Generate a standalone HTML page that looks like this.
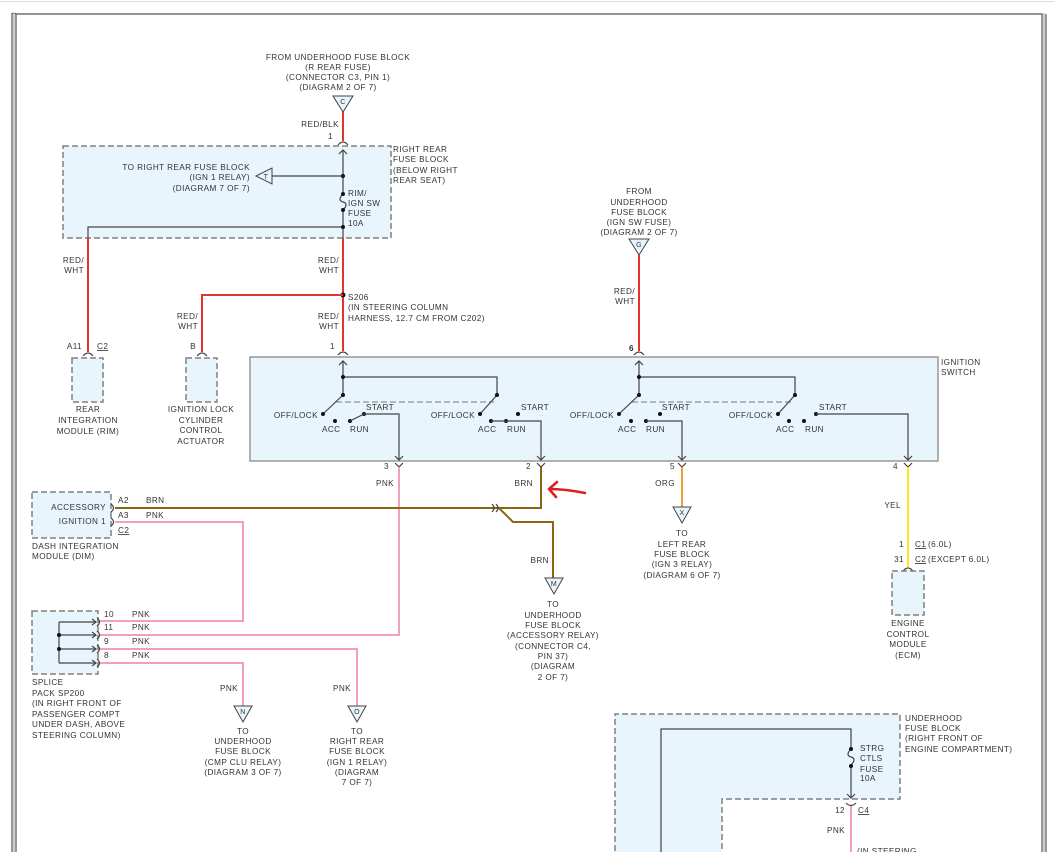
<!DOCTYPE html>
<html><head><meta charset="utf-8"><style>
html,body{margin:0;padding:0;background:#fff;}
svg{display:block;}
text{font-family:"Liberation Sans",sans-serif;font-size:8.2px;fill:#333;letter-spacing:0.4px;}
.m{text-anchor:middle}.r{text-anchor:end}
.box{fill:#e9f5fc;stroke:#808080;stroke-width:1.5;stroke-dasharray:6 3}
.g{stroke:#444;stroke-width:1.2;fill:none}
.red{stroke:#e8302c;stroke-width:2;fill:none}
.pnk{stroke:#f4a0b4;stroke-width:2;fill:none}
.brn{stroke:#8b6414;stroke-width:2;fill:none}
.tri{fill:#e9f5fc;stroke:#444;stroke-width:1}
</style></head><body>
<svg width="1054" height="852" viewBox="0 0 1054 852" xmlns="http://www.w3.org/2000/svg">
<!-- frame -->
<line x1="0" y1="1.5" x2="1054" y2="1.5" stroke="#ddd" stroke-width="1"/>
<path d="M12 852V13.5H16M16 852V14H1042V852M1046 852V14" stroke="#555" stroke-width="1.2" fill="none"/>
<line x1="14" y1="13" x2="14" y2="852" stroke="#bbb" stroke-width="1.5"/>
<line x1="1044" y1="13" x2="1044" y2="852" stroke="#bbb" stroke-width="1.5"/>

<!-- top source -->
<text class="m" x="338" y="60">FROM UNDERHOOD FUSE BLOCK</text>
<text class="m" x="338" y="70">(R REAR FUSE)</text>
<text class="m" x="338" y="80">(CONNECTOR C3, PIN 1)</text>
<text class="m" x="338" y="90">(DIAGRAM 2 OF 7)</text>
<polygon class="tri" points="333,96 353,96 343,112"/><text class="m" x="343" y="104" style="font-size:7px">C</text>
<line class="red" x1="343" y1="112" x2="343" y2="141"/>
<text class="r" x="339" y="127">RED/BLK</text>
<text x="328" y="139">1</text>
<path class="g" d="M338 145Q343 139 348 145" />

<!-- right rear fuse block -->
<rect class="box" x="63" y="146" width="328" height="92"/>
<text x="393" y="152">RIGHT REAR</text><text x="393" y="162">FUSE BLOCK</text><text x="393" y="173">(BELOW RIGHT</text><text x="393" y="183">REAR SEAT)</text>
<path class="g" d="M343 238V150M339 154L343 150L347 154"/>
<path class="g" d="M343 176H272"/>
<polygon class="tri" points="272,168 272,184 256,176"/><text class="m" x="266" y="179" style="font-size:7px">T</text>
<text class="r" x="250" y="170">TO RIGHT REAR FUSE BLOCK</text>
<text class="r" x="250" y="180">(IGN 1 RELAY)</text>
<text class="r" x="250" y="191">(DIAGRAM 7 OF 7)</text>
<circle cx="343" cy="176" r="2" fill="#111"/>
<rect x="338" y="193" width="10" height="18" fill="#e9f5fc"/>
<path class="g" d="M343 194C339 198 339 201 343 202C347 203 347 206 343 210"/>
<circle cx="343" cy="194" r="2" fill="#111"/><circle cx="343" cy="210" r="2" fill="#111"/>
<text x="348" y="196">RIM/</text><text x="348" y="206">IGN SW</text><text x="348" y="216">FUSE</text><text x="348" y="226">10A</text>
<path class="g" d="M343 227H88V238"/><circle cx="343" cy="227" r="2" fill="#111"/>

<!-- wires down -->
<line class="red" x1="343" y1="238" x2="343" y2="351"/>
<text class="r" x="339" y="263">RED/</text><text class="r" x="339" y="273">WHT</text>
<circle cx="343" cy="295" r="2.5" fill="#111"/>
<path class="red" d="M343 295H202V352"/>
<text x="348" y="300">S206</text><text x="348" y="310">(IN STEERING COLUMN</text><text x="348" y="321">HARNESS, 12.7 CM FROM C202)</text>
<text class="r" x="339" y="319">RED/</text><text class="r" x="339" y="329">WHT</text>
<text x="330" y="349">1</text>
<path class="g" d="M338 355Q343 349 348 355"/>
<line class="red" x1="88" y1="238" x2="88" y2="352"/>
<text class="r" x="84" y="263">RED/</text><text class="r" x="84" y="273">WHT</text>
<text class="r" x="82" y="349">A11</text><text x="97" y="349" text-decoration="underline">C2</text>
<path class="g" d="M83 356Q88 350 93 356"/>
<rect class="box" x="72" y="358" width="31" height="44"/>
<text class="m" x="88" y="412">REAR</text><text class="m" x="88" y="423">INTEGRATION</text><text class="m" x="88" y="434">MODULE (RIM)</text>
<text class="r" x="198" y="319">RED/</text><text class="r" x="198" y="329">WHT</text>
<text class="r" x="196" y="349">B</text>
<path class="g" d="M197 356Q202 350 207 356"/>
<rect class="box" x="186" y="358" width="31" height="44"/>
<text class="m" x="201" y="412">IGNITION LOCK</text><text class="m" x="201" y="423">CYLINDER</text><text class="m" x="201" y="433">CONTROL</text><text class="m" x="201" y="444">ACTUATOR</text>

<!-- G source -->
<text class="m" x="639" y="194">FROM</text><text class="m" x="639" y="205">UNDERHOOD</text><text class="m" x="639" y="215">FUSE BLOCK</text><text class="m" x="639" y="225">(IGN SW FUSE)</text><text class="m" x="639" y="235">(DIAGRAM 2 OF 7)</text>
<polygon class="tri" points="629,239 649,239 639,255"/><text class="m" x="639" y="247" style="font-size:7px">G</text>
<line class="red" x1="639" y1="255" x2="639" y2="351"/>
<text class="r" x="635" y="294">RED/</text><text class="r" x="635" y="304">WHT</text>
<text x="629" y="351" style="font-weight:bold">6</text>
<path class="g" d="M634 355Q639 349 644 355"/>

<!-- ignition switch -->
<rect x="250" y="357" width="688" height="104" fill="#e9f5fc" stroke="#888" stroke-width="1.3"/>
<text x="941" y="365">IGNITION</text><text x="941" y="375">SWITCH</text>

<g id="sw1">
<path class="g" d="M343 395V361M339 365L343 361L347 365"/>
<path class="g" d="M343 377H497V395"/>
<path d="M336 402H494" stroke="#777" stroke-width="1" stroke-dasharray="6 3" fill="none"/>
<path class="g" d="M343 395L323 414M497 395L480 414"/>
<g fill="#111"><circle cx="343" cy="377" r="2"/><circle cx="343" cy="395" r="2"/><circle cx="497" cy="395" r="2"/><circle cx="323" cy="414" r="2"/><circle cx="335" cy="421" r="2"/><circle cx="350" cy="421" r="2"/><circle cx="364" cy="414" r="2"/>
<circle cx="480" cy="414" r="2"/><circle cx="491" cy="421" r="2"/><circle cx="506" cy="421" r="2"/><circle cx="518" cy="414" r="2"/></g>
<text class="r" x="318" y="418">OFF/LOCK</text><text x="366" y="410">START</text><text x="322" y="432">ACC</text><text x="350" y="432">RUN</text>
<text class="r" x="475" y="418">OFF/LOCK</text><text x="521" y="410">START</text><text x="478" y="432">ACC</text><text x="507" y="432">RUN</text>
</g>
<path class="g" d="M350 421L364 414H399V460M395 456L399 460L403 456"/>
<path class="g" d="M491 421H541V460M537 456L541 460L545 456"/>

<g transform="translate(296,0)">
<path class="g" d="M343 395V361M339 365L343 361L347 365"/>
<path class="g" d="M343 377H499V395"/>
<path d="M336 402H496" stroke="#777" stroke-width="1" stroke-dasharray="6 3" fill="none"/>
<path class="g" d="M343 395L323 414M499 395L482 414"/>
<g fill="#111"><circle cx="343" cy="377" r="2"/><circle cx="343" cy="395" r="2"/><circle cx="499" cy="395" r="2"/><circle cx="323" cy="414" r="2"/><circle cx="335" cy="421" r="2"/><circle cx="350" cy="421" r="2"/><circle cx="364" cy="414" r="2"/>
<circle cx="482" cy="414" r="2"/><circle cx="493" cy="421" r="2"/><circle cx="508" cy="421" r="2"/><circle cx="520" cy="414" r="2"/></g>
<text class="r" x="318" y="418">OFF/LOCK</text><text x="366" y="410">START</text><text x="322" y="432">ACC</text><text x="350" y="432">RUN</text>
<text class="r" x="477" y="418">OFF/LOCK</text><text x="523" y="410">START</text><text x="480" y="432">ACC</text><text x="509" y="432">RUN</text>
</g>
<path class="g" d="M646 421H682V460M678 456L682 460L686 456"/>
<path class="g" d="M816 414H908V460M904 456L908 460L912 456"/>

<!-- pin forks -->
<g class="g"><path d="M395 463L399 467L403 463M399 467V469"/><path d="M537 463L541 467L545 463"/><path d="M678 463L682 467L686 463"/><path d="M904 463L908 467L912 463"/></g>
<text x="384" y="469">3</text><text x="526" y="469">2</text><text x="670" y="469">5</text><text x="893" y="469">4</text>

<!-- pin3 PNK -->
<path class="pnk" d="M399 467V635H100"/>
<text class="r" x="394" y="486">PNK</text>
<!-- pin2 BRN -->
<path class="brn" d="M541 467V508H115"/>
<text class="r" x="533" y="486">BRN</text>
<path d="M585 493C575 491 562 489 549 489M557 482L549 489L556 497" stroke="#e02020" stroke-width="2.6" fill="none" stroke-linecap="round" stroke-linejoin="round"/>
<path class="g" d="M492 504Q496 508 492 512M496 504Q500 508 496 512"/>
<path class="brn" d="M499 508L513 522H553V578"/>
<text class="r" x="549" y="563">BRN</text>
<polygon class="tri" points="545,578 563,578 554,594"/><text class="m" x="554" y="586" style="font-size:7px">M</text>
<text class="m" x="553" y="607">TO</text><text class="m" x="553" y="618">UNDERHOOD</text><text class="m" x="553" y="628">FUSE BLOCK</text><text class="m" x="553" y="638">(ACCESSORY RELAY)</text><text class="m" x="553" y="649">(CONNECTOR C4,</text><text class="m" x="553" y="659">PIN 37)</text><text class="m" x="553" y="669">(DIAGRAM</text><text class="m" x="553" y="680">2 OF 7)</text>
<!-- pin5 ORG -->
<line x1="682" y1="467" x2="682" y2="507" stroke="#f0a030" stroke-width="2"/>
<text class="r" x="675" y="486">ORG</text>
<polygon class="tri" points="673,507 691,507 682,523"/><text class="m" x="682" y="515" style="font-size:7px">X</text>
<text class="m" x="682" y="536">TO</text><text class="m" x="682" y="547">LEFT REAR</text><text class="m" x="682" y="557">FUSE BLOCK</text><text class="m" x="682" y="567">(IGN 3 RELAY)</text><text class="m" x="682" y="578">(DIAGRAM 6 OF 7)</text>
<!-- pin4 YEL -->
<line x1="908" y1="467" x2="908" y2="567" stroke="#ffe820" stroke-width="2"/>
<text class="r" x="901" y="508">YEL</text>
<text class="r" x="904" y="547">1</text><text x="915" y="547" text-decoration="underline">C1</text><text x="928" y="547">(6.0L)</text>
<text class="r" x="904" y="562">31</text><text x="915" y="562" text-decoration="underline">C2</text><text x="928" y="562">(EXCEPT 6.0L)</text>
<path class="g" d="M903 571Q908 565 913 571"/>
<rect class="box" x="892" y="571" width="32" height="44"/>
<text class="m" x="908" y="626">ENGINE</text><text class="m" x="908" y="637">CONTROL</text><text class="m" x="908" y="647">MODULE</text><text class="m" x="908" y="658">(ECM)</text>

<!-- DIM -->
<rect class="box" x="32" y="492" width="79" height="46"/>
<text class="r" x="106" y="510">ACCESSORY</text><text class="r" x="106" y="524">IGNITION 1</text>
<path class="g" d="M111 504Q116 508 111 512M111 518Q116 522 111 526"/>
<text x="118" y="503">A2</text><text x="146" y="503">BRN</text>
<text x="118" y="518">A3</text><text x="146" y="518">PNK</text>
<text x="118" y="533" text-decoration="underline">C2</text>
<text x="32" y="549">DASH INTEGRATION</text><text x="32" y="559">MODULE (DIM)</text>
<path class="pnk" d="M115 522H243V621H100"/>

<!-- splice pack -->
<rect class="box" x="32" y="611" width="66" height="63"/>
<path class="g" d="M59 622V663M59 622H96M59 635H96M59 649H96M59 663H96"/>
<g class="g"><path d="M92 619L96 622L92 625M92 632L96 635L92 638M92 646L96 649L92 652M92 660L96 663L92 666"/><path d="M97 618Q102 622 97 626M97 631Q102 635 97 639M97 645Q102 649 97 653M97 659Q102 663 97 667"/></g>
<circle cx="59" cy="635" r="2" fill="#111"/><circle cx="59" cy="649" r="2" fill="#111"/>
<text x="104" y="617">10</text><text x="132" y="617">PNK</text>
<text x="104" y="630">11</text><text x="132" y="630">PNK</text>
<text x="104" y="644">9</text><text x="132" y="644">PNK</text>
<text x="104" y="658">8</text><text x="132" y="658">PNK</text>
<path class="pnk" d="M100 649H357V706"/>
<path class="pnk" d="M100 663H243V706"/>
<text x="32" y="685">SPLICE</text><text x="32" y="696">PACK SP200</text><text x="32" y="706">(IN RIGHT FRONT OF</text><text x="32" y="717">PASSENGER COMPT</text><text x="32" y="727">UNDER DASH, ABOVE</text><text x="32" y="738">STEERING COLUMN)</text>
<text class="r" x="238" y="691">PNK</text><text class="r" x="351" y="691">PNK</text>
<polygon class="tri" points="234,706 252,706 243,722"/><text class="m" x="243" y="714" style="font-size:7px">N</text>
<polygon class="tri" points="348,706 366,706 357,722"/><text class="m" x="357" y="714" style="font-size:7px">O</text>
<text class="m" x="243" y="734">TO</text><text class="m" x="243" y="744">UNDERHOOD</text><text class="m" x="243" y="754">FUSE BLOCK</text><text class="m" x="243" y="765">(CMP CLU RELAY)</text><text class="m" x="243" y="775">(DIAGRAM 3 OF 7)</text>
<text class="m" x="357" y="734">TO</text><text class="m" x="357" y="744">RIGHT REAR</text><text class="m" x="357" y="754">FUSE BLOCK</text><text class="m" x="357" y="765">(IGN 1 RELAY)</text><text class="m" x="357" y="775">(DIAGRAM</text><text class="m" x="357" y="785">7 OF 7)</text>

<!-- underhood bottom right -->
<path d="M615 860V714H900V799H722V860" fill="#e9f5fc" stroke="#808080" stroke-width="1.5" stroke-dasharray="6 3"/>
<text x="905" y="721">UNDERHOOD</text><text x="905" y="731">FUSE BLOCK</text><text x="905" y="741">(RIGHT FRONT OF</text><text x="905" y="752">ENGINE COMPARTMENT)</text>
<path class="g" d="M661 852V729H851V748M851 766V798M847 794L851 798L855 794"/>
<path class="g" d="M851 749C847 753 847 756 851 757C855 758 855 761 851 765"/>
<circle cx="851" cy="749" r="2" fill="#111"/><circle cx="851" cy="766" r="2" fill="#111"/>
<text x="860" y="751">STRG</text><text x="860" y="761">CTLS</text><text x="860" y="772">FUSE</text><text x="860" y="781">10A</text>
<path class="g" d="M846 803Q851 808 856 803"/>
<text class="r" x="845" y="813">12</text><text x="858" y="813" text-decoration="underline">C4</text>
<line class="pnk" x1="851" y1="806" x2="851" y2="852"/>
<text class="r" x="845" y="833">PNK</text>
<text x="857" y="854">(IN STEERING</text>
</svg>
</body></html>
